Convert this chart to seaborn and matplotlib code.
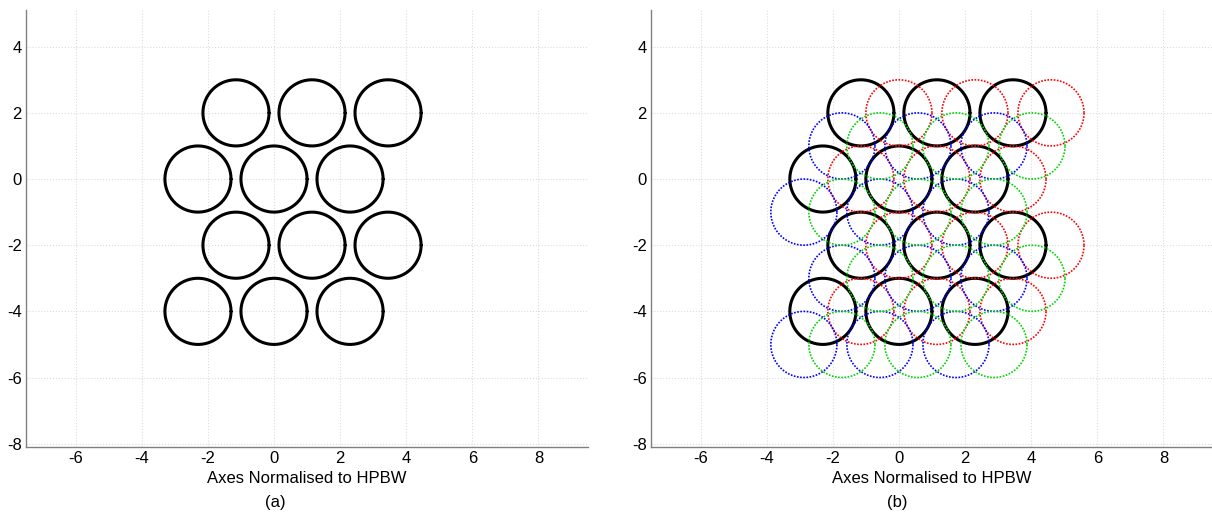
import numpy as np
import matplotlib
matplotlib.use("Agg")
import matplotlib.pyplot as plt
import seaborn as sns

# beam centres of the main grid, in HPBW units
beam_x = [-1.15, 1.15, 3.45, -2.3, 0.0, 2.3, -1.15, 1.15, 3.45, -2.3, 0.0, 2.3]
beam_y = [2, 2, 2, 0, 0, 0, -2, -2, -2, -4, -4, -4]
beam_r = 1.0

# offset of the interleaved grids (panel b)
shift_names = ["red", "blue", "green"]
shift_dx = [1.15, -0.575, 0.575]
shift_dy = [0.0, -1.0, -1.0]
shift_colors = ["#ff0000", "#0000ff", "#00d400"]

xticks = [-6, -4, -2, 0, 2, 4, 6, 8]
yticks = [-8, -6, -4, -2, 0, 2, 4]

sns.set_style("white")
plt.rcParams['font.family'] = ['Liberation Sans', 'DejaVu Sans']
plt.rcParams['text.color'] = 'black'
plt.rcParams['axes.labelcolor'] = 'black'

theta = np.linspace(0, 2 * np.pi, 200)


def draw_circles(ax, xs, ys, color, lw, ls):
    for cx, cy in zip(xs, ys):
        ax.plot(cx + beam_r * np.cos(theta), cy + beam_r * np.sin(theta),
                color=color, lw=lw, ls=ls)


def style_axes(ax):
    ax.set_xlim(-7.5, 9.5)
    ax.set_ylim(-8.09, 5.11)
    ax.set_xticks(xticks)
    ax.set_yticks(yticks)
    ax.set_xticklabels([str(t) for t in xticks], fontsize=12)
    ax.set_yticklabels([str(t) for t in yticks], fontsize=12)
    ax.grid(True, color="#dcdcdc", ls=":", lw=0.8)
    ax.set_axisbelow(True)
    for side in ["top", "right"]:
        ax.spines[side].set_visible(False)
    for side in ["left", "bottom"]:
        ax.spines[side].set_color("#808080")
        ax.spines[side].set_linewidth(1.0)
    ax.tick_params(direction="in", length=3, color="#808080", labelcolor="black", pad=3)
    ax.set_xlabel("Axes Normalised to HPBW", fontsize=12, labelpad=4)


fig = plt.figure(figsize=(12.12, 5.14), dpi=100)
ax1 = fig.add_axes([0.0215, 0.131, 0.4637, 0.8496])
ax2 = fig.add_axes([0.5371, 0.131, 0.4637, 0.8496])

draw_circles(ax1, beam_x, beam_y, "black", 2.2, "-")

draw_circles(ax2, beam_x, beam_y, "black", 2.2, "-")
for dx, dy, col in zip(shift_dx, shift_dy, shift_colors):
    draw_circles(ax2, [x + dx for x in beam_x], [y + dy for y in beam_y],
                 col, 1.2, (0, (1, 0.9)))

style_axes(ax1)
style_axes(ax2)

fig.text(275 / 1212, 1 - 503 / 514, "(a)", ha="center", va="center", fontsize=12)
fig.text(897 / 1212, 1 - 503 / 514, "(b)", ha="center", va="center", fontsize=12)

fig.savefig("out.png", dpi=100)
